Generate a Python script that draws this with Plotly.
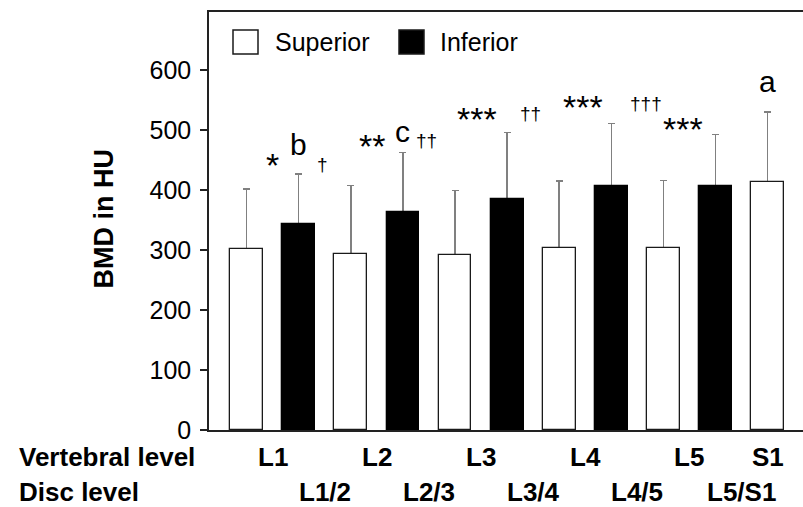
import plotly.graph_objects as go

# ---------------- data ----------------
vertebrae = ["L1", "L2", "L3", "L4", "L5", "S1"]
discs = ["L1/2", "L2/3", "L3/4", "L4/5", "L5/S1"]
superior_mean = [302, 293, 291, 304, 304, 414]
superior_sd = [100, 115, 108, 111, 112, 116]
inferior_mean = [343, 363, 385, 406, 406]
inferior_sd = [84, 100, 111, 105, 87]
y_ticks = [0, 100, 200, 300, 400, 500, 600]
sig_labels = ["*", "b", "†", "**", "c", "††", "***", "††", "***", "†††", "***", "a"]

# ---------------- layout constants ----------------
W, H = 803, 507
ML, MT, MB, MR = 209, 12, 77, 0
PW = W - ML - MR
PH = H - MT - MB
FONT = "Liberation Sans, Arial, Helvetica, sans-serif"

sup_x = [2 * i for i in range(len(superior_mean))]
inf_x = [2 * i + 1 for i in range(len(inferior_mean))]
vert_x = [2 * i + 0.5 for i in range(5)] + [10]
disc_x = [2 * i + 1.5 for i in range(len(discs))]

# positions of significance markers (x in bar units, y in HU, font size)
sig_pos = [(0.49, 442, 34), (1.0, 476, 30), (1.46, 443, 19),
           (2.41, 473, 34), (3.0, 498, 30), (3.46, 482, 19),
           (4.42, 518, 34), (5.45, 527, 19), (6.46, 539, 34),
           (7.67, 545, 19), (8.38, 502, 34), (10.0, 581, 30)]

BW = 0.63
fig = go.Figure()

# invisible carrier traces for the error bars (drawn first so bars cover the lower cap)
err_style = dict(type="data", symmetric=False, color="#808080", thickness=1.4, width=3.5, visible=True)
fig.add_trace(go.Bar(x=sup_x, y=superior_mean, width=BW, marker=dict(color="rgba(0,0,0,0)", line=dict(width=0)),
                     error_y=dict(array=superior_sd, arrayminus=[0] * len(superior_sd), **err_style),
                     showlegend=False, hoverinfo="skip"))
fig.add_trace(go.Bar(x=inf_x, y=inferior_mean, width=BW, marker=dict(color="rgba(0,0,0,0)", line=dict(width=0)),
                     error_y=dict(array=inferior_sd, arrayminus=[0] * len(inferior_sd), **err_style),
                     showlegend=False, hoverinfo="skip"))
fig.add_trace(go.Bar(x=sup_x, y=superior_mean, width=BW, name="Superior",
                     marker=dict(color="white", line=dict(color="#1a1a1a", width=1.3)), showlegend=False))
fig.add_trace(go.Bar(x=inf_x, y=inferior_mean, width=BW, name="Inferior",
                     marker=dict(color="black", line=dict(color="black", width=1.3)), showlegend=False))

annotations = []
for (x, y, s), t in zip(sig_pos, sig_labels):
    annotations.append(dict(x=x, y=y, xref="x", yref="y", text=t, showarrow=False,
                            font=dict(family=FONT, size=s, color="black"), xanchor="center", yanchor="middle"))

lab_font = dict(family=FONT, size=26, color="black")
ROW1, ROW2 = -27, -62
for x, t in zip(vert_x, vertebrae):
    annotations.append(dict(x=x, y=0, xref="x", yref="paper", yshift=ROW1, text="<b>%s</b>" % t,
                            showarrow=False, font=lab_font, xanchor="center", yanchor="middle"))
for x, t in zip(disc_x, discs):
    annotations.append(dict(x=x, y=0, xref="x", yref="paper", yshift=ROW2, text="<b>%s</b>" % t,
                            showarrow=False, font=lab_font, xanchor="center", yanchor="middle"))
annotations.append(dict(x=0, y=0, xref="paper", yref="paper", xshift=17 - ML, yshift=ROW1,
                        text="<b>Vertebral level</b>", showarrow=False, font=lab_font,
                        xanchor="left", yanchor="middle"))
annotations.append(dict(x=0, y=0, xref="paper", yref="paper", xshift=17 - ML, yshift=ROW2,
                        text="<b>Disc level</b>", showarrow=False, font=lab_font,
                        xanchor="left", yanchor="middle"))


def px_x(px):
    return (px - ML) / PW


def px_y(py):
    return (H - MB - py) / PH


# y-axis title
annotations.append(dict(x=px_x(103), y=px_y(219.5), xref="paper", yref="paper",
                        text="<b>BMD in HU</b>", textangle=-90, showarrow=False,
                        font=dict(family=FONT, size=27, color="black"), xanchor="center", yanchor="middle"))

# manual legend
legend_items = [("Superior", "white", 233, 273), ("Inferior", "black", 399, 438)]
shapes = []
for name, col, sx, tx in legend_items:
    shapes.append(dict(type="rect", xref="paper", yref="paper", x0=px_x(sx), x1=px_x(sx + 25),
                       y0=px_y(54), y1=px_y(30), fillcolor=col, line=dict(color="#1a1a1a", width=1.5)))
    annotations.append(dict(x=px_x(tx), y=px_y(42), xref="paper", yref="paper", text=name,
                            showarrow=False, font=dict(family=FONT, size=25, color="black"),
                            xanchor="left", yanchor="middle"))

x0 = (ML - 246.7) / 52.08
x1 = (W - 246.7) / 52.08
fig.update_layout(
    width=W, height=H, margin=dict(l=ML, r=MR, t=MT, b=MB, autoexpand=False),
    paper_bgcolor="white", plot_bgcolor="white", barmode="overlay", bargap=0,
    font=dict(family=FONT, color="black"),
    xaxis=dict(range=[x0, x1], showgrid=False, zeroline=False, showticklabels=False, ticks="",
               showline=True, linecolor="#222", linewidth=1.5, mirror=True, fixedrange=True),
    yaxis=dict(range=[0, (H - MB - MT) / 0.6], showgrid=False, zeroline=False, tickvals=y_ticks,
               ticktext=[str(v) for v in y_ticks], ticks="outside", ticklen=7, tickwidth=1.5,
               tickcolor="#222", showline=True, linecolor="#222", linewidth=1.5,
               tickfont=dict(family=FONT, size=25, color="black"), ticklabelstandoff=4, fixedrange=True),
    annotations=annotations, shapes=shapes, showlegend=False,
)

fig.write_html("out.html", config={"displayModeBar": False},
               post_script="document.body.style.margin='0';document.body.style.overflow='hidden';")
